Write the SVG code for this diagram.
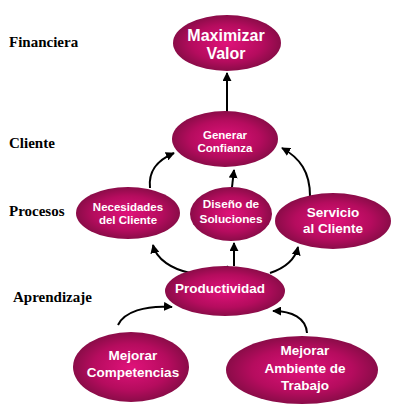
<svg xmlns="http://www.w3.org/2000/svg" width="407" height="411" viewBox="0 0 407 411">
<defs>
<radialGradient id="g" cx="50%" cy="50%" r="55%">
<stop offset="0" stop-color="#e0127a"/>
<stop offset="0.6" stop-color="#b50c5e"/>
<stop offset="1" stop-color="#7e0c42"/>
</radialGradient>
<marker id="ah" viewBox="0 0 10 10" refX="9" refY="5" markerWidth="9" markerHeight="9" markerUnits="userSpaceOnUse" orient="auto">
<path d="M0,0 L10,5 L0,10 z" fill="#000"/>
</marker>
</defs>
<style>
.n{fill:url(#g);}
.t{fill:#fff;font-family:"Liberation Sans",Arial,sans-serif;font-weight:bold;text-anchor:middle;}
.l{fill:#000;font-family:"Liberation Serif","Times New Roman",serif;font-weight:bold;font-size:15px;}
.c{fill:none;stroke:#000;stroke-width:2;marker-end:url(#ah);}
</style>
<rect width="407" height="411" fill="#fff"/>
<g id="labels">
<text class="l" x="9" y="47">Financiera</text>
<text class="l" x="9" y="148">Cliente</text>
<text class="l" x="9" y="216">Procesos</text>
<text class="l" x="13" y="302">Aprendizaje</text>
</g>
<g id="connectors">
<path class="c" d="M227,112 L227,73"/>
<path class="c" d="M150,188 C148,170 158,160 174,153"/>
<path class="c" d="M232,187 L234,170"/>
<path class="c" d="M310,196 C310,172 300,158 282,148"/>
<path class="c" d="M228,266 C218,282 160,275 153,245"/>
<path class="c" d="M234,266 L234,243"/>
<path class="c" d="M270,273 C285,268 295,260 298,247"/>
<path class="c" d="M118,325 C124,312 145,305 172,307"/>
<path class="c" d="M307,333 C306,318 292,311 273,311"/>
</g>
<g id="maximizar">
<ellipse class="n" cx="227" cy="43" rx="54" ry="28"/>
<text class="t" x="226" y="41" font-size="16">Maximizar</text>
<text class="t" x="226" y="59" font-size="16">Valor</text>
</g>
<g id="generar">
<ellipse class="n" cx="225" cy="139" rx="53" ry="28"/>
<text class="t" x="225" y="139" font-size="11.5">Generar</text>
<text class="t" x="225" y="152" font-size="11.5">Confianza</text>
</g>
<g id="necesidades">
<ellipse class="n" cx="128" cy="213" rx="52" ry="26"/>
<text class="t" x="128" y="211" font-size="11.5">Necesidades</text>
<text class="t" x="128" y="224" font-size="11.5">del Cliente</text>
</g>
<g id="diseno">
<ellipse class="n" cx="231" cy="214" rx="41" ry="27"/>
<text class="t" x="231" y="208" font-size="11.8">Diseño de</text>
<text class="t" x="231" y="223" font-size="11.8">Soluciones</text>
</g>
<g id="servicio">
<ellipse class="n" cx="333" cy="221" rx="58" ry="28"/>
<text class="t" x="333" y="217" font-size="13.5">Servicio</text>
<text class="t" x="333" y="233" font-size="13.5">al Cliente</text>
</g>
<g id="productividad">
<ellipse class="n" cx="225" cy="291" rx="60" ry="25"/>
<text class="t" x="220" y="293" font-size="13.5">Productividad</text>
</g>
<g id="competencias">
<ellipse class="n" cx="131" cy="367" rx="58" ry="35"/>
<text class="t" x="133" y="360" font-size="13.5">Mejorar</text>
<text class="t" x="133" y="377" font-size="13.5">Competencias</text>
</g>
<g id="ambiente">
<ellipse class="n" cx="302" cy="370" rx="76" ry="34"/>
<text class="t" x="305" y="355" font-size="13.5">Mejorar</text>
<text class="t" x="305" y="373" font-size="13.5">Ambiente de</text>
<text class="t" x="305" y="390" font-size="13.5">Trabajo</text>
</g>
</svg>
